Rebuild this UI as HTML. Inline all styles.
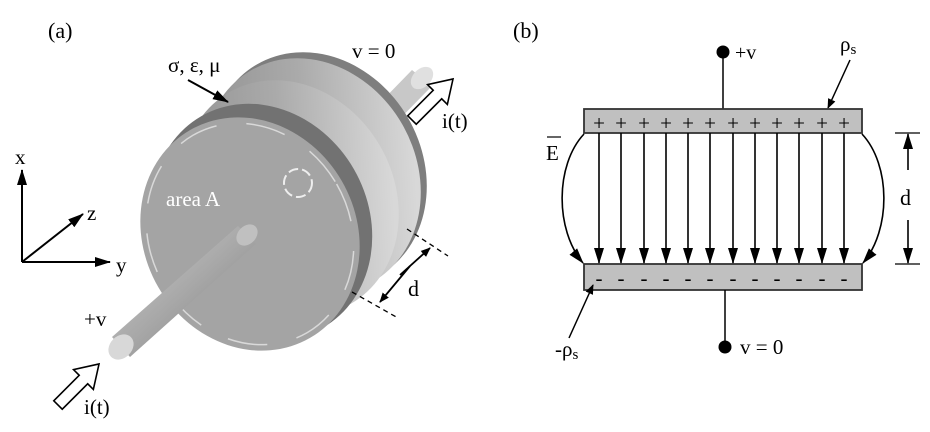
<!DOCTYPE html>
<html><head><meta charset="utf-8"><style>
html,body{margin:0;padding:0;background:#fff;font-family:"Liberation Serif","Times New Roman",serif;}
text,tspan{font-family:"Liberation Serif","Times New Roman",serif !important;}
</style></head><body>
<svg width="930" height="427" viewBox="0 0 930 427" xmlns="http://www.w3.org/2000/svg" font-family="Liberation Serif, Times New Roman, serif">
<defs>
<marker id="ah" markerWidth="10" markerHeight="10" refX="9" refY="5" orient="auto" markerUnits="userSpaceOnUse">
<path d="M0,1 L10,5 L0,9 z" fill="#000"/></marker>
<marker id="ahs" markerWidth="16" markerHeight="12" refX="15" refY="6" orient="auto" markerUnits="userSpaceOnUse">
<path d="M0,1 L16,6 L0,11 z" fill="#000"/></marker>
<linearGradient id="body" x1="0" y1="0" x2="1" y2="0.6">
<stop offset="0" stop-color="#8a8a8a"/><stop offset="0.55" stop-color="#aaaaaa"/><stop offset="1" stop-color="#d8d8d8"/></linearGradient>
<linearGradient id="rod" x1="0" y1="0" x2="1" y2="1">
<stop offset="0" stop-color="#d0d0d0"/><stop offset="0.5" stop-color="#a8a8a8"/><stop offset="1" stop-color="#7a7a7a"/></linearGradient>
</defs>

<text x="48" y="38" font-size="22">(a)</text>
<text x="513" y="38" font-size="22">(b)</text>

<path d="M300,185 L412,70 L432,86 L320,200 Z" fill="#c8c8c8"/>
<ellipse cx="422" cy="78" rx="13" ry="9" transform="rotate(-45 422 78)" fill="#e0e0e0"/>

<ellipse cx="318" cy="170" rx="104" ry="122" transform="rotate(-30 318 170)" fill="#7e7e7e"/>
<ellipse cx="312" cy="176" rx="104" ry="122" transform="rotate(-30 312 176)" fill="url(#body)"/>
<ellipse cx="290" cy="198" rx="104" ry="122" transform="rotate(-30 290 198)" fill="url(#body)"/>
<ellipse cx="262" cy="222" rx="106" ry="122" transform="rotate(-30 262 222)" fill="#727272"/>
<ellipse cx="250" cy="234" rx="106" ry="120" transform="rotate(-30 250 234)" fill="#a4a4a4"/>
<ellipse cx="250" cy="234" rx="100" ry="114" transform="rotate(-30 250 234)" fill="none" stroke="#e6e6e6" stroke-width="1.5" stroke-dasharray="40 30" opacity="0.8"/>
<circle cx="298" cy="183" r="14" fill="none" stroke="#eee" stroke-width="2" stroke-dasharray="10 4"/>
<text x="166" y="206" font-size="21" fill="#fff">area A</text>

<path d="M238,226 L112,337 L130,357 L256,244 Z" fill="url(#rod)"/>
<ellipse cx="247" cy="235" rx="12" ry="9" transform="rotate(-45 247 235)" fill="#c0c0c0"/>
<ellipse cx="121" cy="347" rx="14" ry="11" transform="rotate(-45 121 347)" fill="#d8d8d8"/>

<text x="168" y="72" font-size="21">σ, ε, μ</text>
<line x1="188" y1="80" x2="228" y2="102" stroke="#000" stroke-width="2" marker-end="url(#ahs)"/>
<text x="352" y="58" font-size="21">v = 0</text>
<text x="442" y="128" font-size="21">i(t)</text>
<text x="84" y="326" font-size="21">+v</text>
<text x="84" y="414" font-size="21">i(t)</text>

<g fill="#fff" stroke="#000" stroke-width="1.6">
<path d="M0,-6 L36,-6 L36,-14 L58,0 L36,14 L36,6 L0,6 Z" transform="translate(412,120) rotate(-45)"/>
<path d="M0,-6 L36,-6 L36,-14 L58,0 L36,14 L36,6 L0,6 Z" transform="translate(58,405) rotate(-45)"/>
</g>

<line x1="407" y1="229" x2="448" y2="256" stroke="#000" stroke-width="1.3" stroke-dasharray="5 4"/>
<line x1="352" y1="292" x2="398" y2="318" stroke="#000" stroke-width="1.3" stroke-dasharray="5 4"/>
<line x1="400" y1="275" x2="430" y2="248" stroke="#000" stroke-width="1.8" marker-end="url(#ah)"/>
<line x1="410" y1="266" x2="380" y2="302" stroke="#000" stroke-width="1.8" marker-end="url(#ah)"/>
<text x="408" y="296" font-size="22">d</text>

<g stroke="#000" stroke-width="2">
<line x1="22" y1="262" x2="22" y2="170" marker-end="url(#ahs)"/>
<line x1="22" y1="262" x2="110" y2="262" marker-end="url(#ahs)"/>
<line x1="22" y1="262" x2="83" y2="214" marker-end="url(#ahs)"/>
</g>
<text x="15" y="164" font-size="21">x</text>
<text x="87" y="220" font-size="21">z</text>
<text x="116" y="272" font-size="21">y</text>

<line x1="723" y1="52" x2="723" y2="109" stroke="#000" stroke-width="1.5"/>
<circle cx="723" cy="52" r="6.5" fill="#000"/>
<text x="735" y="59" font-size="20">+v</text>
<text x="840" y="51" font-size="21">ρ<tspan font-size="15" dy="3">s</tspan></text>
<line x1="850" y1="60" x2="828" y2="108" stroke="#000" stroke-width="1.5" marker-end="url(#ah)"/>

<rect x="584" y="109" width="278" height="24" fill="#c0c0c0" stroke="#333" stroke-width="1.8"/>
<rect x="584" y="264" width="278" height="26" fill="#c0c0c0" stroke="#333" stroke-width="1.8"/>
<g font-size="21" text-anchor="middle" fill="#000">
<text x="599" y="130">+</text><text x="621" y="130">+</text><text x="644" y="130">+</text><text x="666" y="130">+</text><text x="688" y="130">+</text><text x="710" y="130">+</text><text x="733" y="130">+</text><text x="755" y="130">+</text><text x="777" y="130">+</text><text x="799" y="130">+</text><text x="822" y="130">+</text><text x="844" y="130">+</text>
<text x="599" y="285">-</text><text x="621" y="285">-</text><text x="644" y="285">-</text><text x="666" y="285">-</text><text x="688" y="285">-</text><text x="710" y="285">-</text><text x="733" y="285">-</text><text x="755" y="285">-</text><text x="777" y="285">-</text><text x="799" y="285">-</text><text x="822" y="285">-</text><text x="844" y="285">-</text>
</g>
<g stroke="#000" stroke-width="1.6">
<line x1="599" y1="133" x2="599" y2="263" marker-end="url(#ahs)"/>
<line x1="621" y1="133" x2="621" y2="263" marker-end="url(#ahs)"/>
<line x1="644" y1="133" x2="644" y2="263" marker-end="url(#ahs)"/>
<line x1="666" y1="133" x2="666" y2="263" marker-end="url(#ahs)"/>
<line x1="688" y1="133" x2="688" y2="263" marker-end="url(#ahs)"/>
<line x1="710" y1="133" x2="710" y2="263" marker-end="url(#ahs)"/>
<line x1="733" y1="133" x2="733" y2="263" marker-end="url(#ahs)"/>
<line x1="755" y1="133" x2="755" y2="263" marker-end="url(#ahs)"/>
<line x1="777" y1="133" x2="777" y2="263" marker-end="url(#ahs)"/>
<line x1="799" y1="133" x2="799" y2="263" marker-end="url(#ahs)"/>
<line x1="822" y1="133" x2="822" y2="263" marker-end="url(#ahs)"/>
<line x1="844" y1="133" x2="844" y2="263" marker-end="url(#ahs)"/>
</g>
<g fill="none" stroke="#000" stroke-width="1.6">
<path d="M584,134 C555,165 555,230 583,263" marker-end="url(#ahs)"/>
<path d="M862,134 C891,165 891,230 863,263" marker-end="url(#ahs)"/>
</g>
<text x="546" y="160" font-size="21">E</text>
<line x1="547" y1="137" x2="561" y2="137" stroke="#000" stroke-width="1.2"/>

<line x1="895" y1="133" x2="920" y2="133" stroke="#000" stroke-width="1.3"/>
<line x1="895" y1="264" x2="920" y2="264" stroke="#000" stroke-width="1.3"/>
<line x1="908" y1="170" x2="908" y2="134" stroke="#000" stroke-width="1.6" marker-end="url(#ahs)"/>
<line x1="908" y1="220" x2="908" y2="263" stroke="#000" stroke-width="1.6" marker-end="url(#ahs)"/>
<text x="900" y="205" font-size="22">d</text>

<line x1="725" y1="290" x2="725" y2="347" stroke="#000" stroke-width="1.5"/>
<circle cx="725" cy="347" r="6.5" fill="#000"/>
<text x="740" y="354" font-size="21">v = 0</text>
<text x="555" y="356" font-size="21">-ρ<tspan font-size="15" dy="3">s</tspan></text>
<line x1="569" y1="338" x2="593" y2="285" stroke="#000" stroke-width="1.5" marker-end="url(#ah)"/>
</svg>
</body></html>
